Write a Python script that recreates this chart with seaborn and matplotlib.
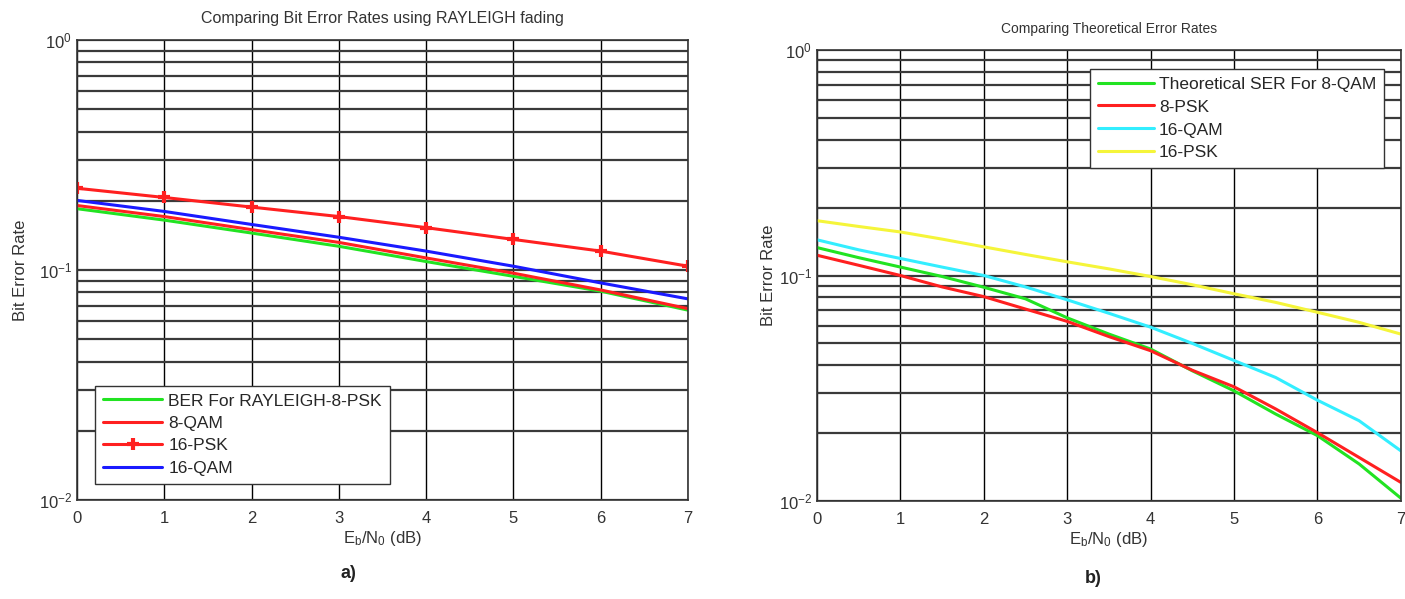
import numpy as np
import pandas as pd
import matplotlib
matplotlib.use('Agg')
import matplotlib.pyplot as plt
import seaborn as sns

# ---- data: panel a) Rayleigh fading BER ----
snr_a = [0, 1, 2, 3, 4, 5, 6, 7]
ber_ray_8psk = [0.185, 0.165, 0.145, 0.127, 0.109, 0.094, 0.081, 0.067]
ber_8qam = [0.191, 0.171, 0.150, 0.132, 0.113, 0.097, 0.082, 0.068]
ber_16psk = [0.227, 0.207, 0.188, 0.171, 0.153, 0.136, 0.121, 0.104]
ber_16qam = [0.201, 0.180, 0.158, 0.139, 0.121, 0.104, 0.088, 0.075]

# ---- data: panel b) theoretical error rates ----
snr_b = [0, 0.5, 1, 1.5, 2, 2.5, 3, 3.5, 4, 4.5, 5, 5.5, 6, 6.5, 7]
ser_8qam = [0.133, 0.120, 0.109, 0.099, 0.0887, 0.0788, 0.0649, 0.055, 0.0472,
            0.0378, 0.0308, 0.0243, 0.0195, 0.0146, 0.0103]
ser_8psk = [0.123, 0.111, 0.100, 0.089, 0.0806, 0.071, 0.0626, 0.0536, 0.0464,
            0.038, 0.0321, 0.0256, 0.0201, 0.0156, 0.0121]
ser_16qam = [0.144, 0.130, 0.119, 0.109, 0.100, 0.089, 0.078, 0.068, 0.059,
             0.050, 0.042, 0.0353, 0.028, 0.0227, 0.0167]
ser_16psk = [0.175, 0.165, 0.156, 0.145, 0.134, 0.124, 0.115, 0.107, 0.099,
             0.091, 0.083, 0.076, 0.0687, 0.062, 0.055]

sns.set_style('white')
plt.rcParams['font.family'] = ['Liberation Sans', 'DejaVu Sans']
plt.rcParams['mathtext.fontset'] = 'custom'
plt.rcParams['mathtext.rm'] = 'Liberation Sans'
plt.rcParams['mathtext.it'] = 'Liberation Sans'

txt = '#333333'
fig = plt.figure(figsize=(14.05, 5.99), dpi=100)
ax1 = fig.add_axes([0.0548, 0.165, 0.4349, 0.768])
ax2 = fig.add_axes([0.5815, 0.1636, 0.4155, 0.7529])


def style_axes(ax):
    ax.set_yscale('log')
    ax.set_xlim(0, 7)
    ax.set_ylim(1e-2, 1)
    ax.set_xticks(range(8))
    ax.grid(True, which='major', axis='x', color='black', lw=1.0)
    ax.grid(True, which='both', axis='y', color='#3a3a3a', lw=1.6)
    ax.tick_params(which='both', direction='in', length=3, colors=txt,
                   labelsize=12)
    ax.tick_params(axis='x', pad=8)
    for s in ax.spines.values():
        s.set_color('#333333')
        s.set_linewidth(1.2)
    ax.set_ylabel('Bit Error Rate', fontsize=12, color=txt)
    ax.set_xlabel(r'E$_\mathregular{b}$/N$_\mathregular{0}$ (dB)', fontsize=12,
                  color=txt, labelpad=2)


# panel a
sns.lineplot(x=snr_a, y=ber_ray_8psk, ax=ax1, color='#22e322', lw=2.2,
             label='BER For RAYLEIGH-8-PSK')
sns.lineplot(x=snr_a, y=ber_8qam, ax=ax1, color='#ff2020', lw=2.2,
             label='8-QAM')
sns.lineplot(x=snr_a, y=ber_16psk, ax=ax1, color='#ff2020', lw=2.2,
             marker='+', markersize=9, markeredgewidth=3,
             markeredgecolor='#ff2020', label='16-PSK')
sns.lineplot(x=snr_a, y=ber_16qam, ax=ax1, color='#1a1aff', lw=2.2,
             label='16-QAM')
style_axes(ax1)
ax1.set_title('Comparing Bit Error Rates using RAYLEIGH fading',
              fontsize=11.5, color=txt, pad=12)
ax1.legend(loc='lower left', bbox_to_anchor=(0.016, 0.017), fontsize=12.5,
           frameon=True, fancybox=False, edgecolor='#333333',
           handlelength=3.4, handletextpad=0.35, labelspacing=0.42,
           borderpad=0.45, framealpha=1)
ax1.yaxis.labelpad = 8

# panel b
sns.lineplot(x=snr_b, y=ser_8qam, ax=ax2, color='#22e322', lw=2.2,
             label='Theoretical SER For 8-QAM')
sns.lineplot(x=snr_b, y=ser_8psk, ax=ax2, color='#ff2020', lw=2.2,
             label='8-PSK')
sns.lineplot(x=snr_b, y=ser_16qam, ax=ax2, color='#33eeff', lw=2.2,
             label='16-QAM')
sns.lineplot(x=snr_b, y=ser_16psk, ax=ax2, color='#f5f53a', lw=2.2,
             label='16-PSK')
style_axes(ax2)
ax2.set_title('Comparing Theoretical Error Rates', fontsize=10,
              color=txt, pad=12)
ax2.legend(loc='upper right', bbox_to_anchor=(0.986, 0.978), fontsize=12.5,
           frameon=True, fancybox=False, edgecolor='#333333',
           handlelength=3.2, handletextpad=0.3, labelspacing=0.45,
           borderpad=0.45, framealpha=1)
ax2.yaxis.labelpad = 2

fig.text(0.242, 0.035, 'a)', fontsize=13, fontweight='bold', color='#222222')
fig.text(0.772, 0.027, 'b)', fontsize=13, fontweight='bold', color='#222222')

fig.savefig('out.png', dpi=100, facecolor='white')
